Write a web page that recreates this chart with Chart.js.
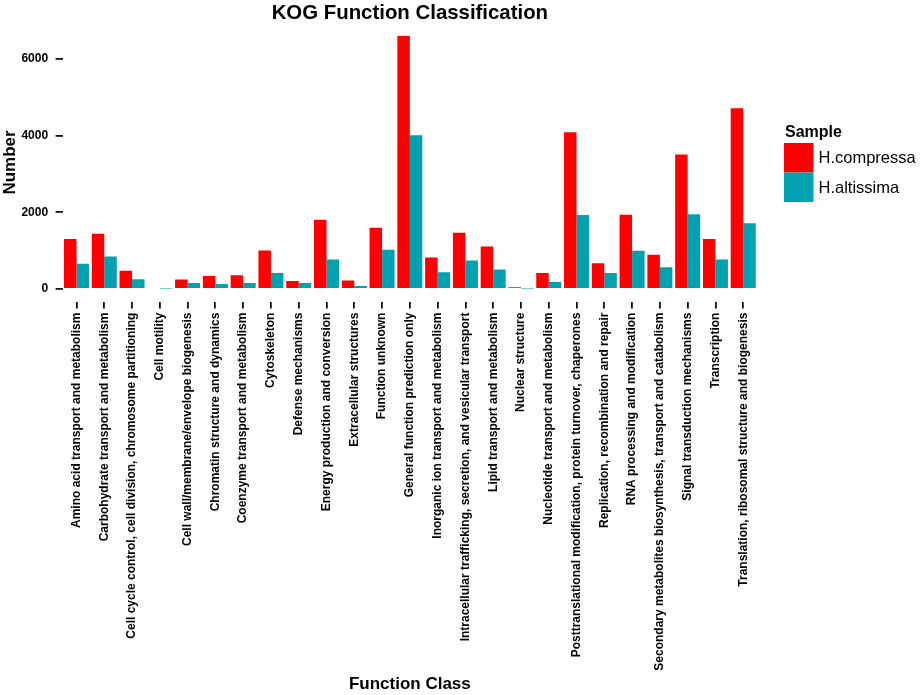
<!DOCTYPE html>
<html>
<head>
<meta charset="utf-8">
<title>KOG Function Classification</title>
<script src="https://cdn.jsdelivr.net/npm/chart.js@4.4.1/dist/chart.umd.min.js"></script>
<style>
    html, body { margin: 0; padding: 0; background: #ffffff; }
    #kogChart { display: block; }
</style>
</head>
<body>
<canvas id="kogChart" width="921" height="695"></canvas>
<script>
// KOG classes, in the order they appear along the x axis
const categories = [
    'Amino acid transport and metabolism',
    'Carbohydrate transport and metabolism',
    'Cell cycle control, cell division, chromosome partitioning',
    'Cell motility',
    'Cell wall/membrane/envelope biogenesis',
    'Chromatin structure and dynamics',
    'Coenzyme transport and metabolism',
    'Cytoskeleton',
    'Defense mechanisms',
    'Energy production and conversion',
    'Extracellular structures',
    'Function unknown',
    'General function prediction only',
    'Inorganic ion transport and metabolism',
    'Intracellular trafficking, secretion, and vesicular transport',
    'Lipid transport and metabolism',
    'Nuclear structure',
    'Nucleotide transport and metabolism',
    'Posttranslational modification, protein turnover, chaperones',
    'Replication, recombination and repair',
    'RNA processing and modification',
    'Secondary metabolites biosynthesis, transport and catabolism',
    'Signal transduction mechanisms',
    'Transcription',
    'Translation, ribosomal structure and biogenesis',
];

// values
const compressaCounts = [1302, 1441, 472, 26, 245, 341, 358, 1004, 210, 1808, 218, 1598, 6603, 821, 1467, 1109, 44, 419, 4087, 672, 1939, 891, 3511, 1302, 4716];
const altissimaCounts = [655, 847, 253, 10, 157, 131, 157, 419, 157, 768, 79, 1022, 4009, 437, 742, 507, 10, 183, 1930, 419, 996, 568, 1947, 768, 1712];

const yTickValues = [0, 2000, 4000, 6000];
const sampleNames = ['H.compressa', 'H.altissima'];
const sampleColors = ['#ff0000', '#00a1b0'];

const FONT = '"Liberation Sans", Arial, Helvetica, sans-serif';

// ggplot-style padding of the value axis (5% of the data range)
const maxCount = Math.max(...compressaCounts, ...altissimaCounts);
const yPad = maxCount * 0.05;

// title and legend, placed like the ggplot output
const decorPlugin = {
    id: 'decor',
    afterDraw(chart) {
        const ctx = chart.ctx;
        const area = chart.chartArea;
        ctx.save();
        ctx.fillStyle = '#000';
        ctx.textAlign = 'center';
        ctx.textBaseline = 'alphabetic';
        ctx.font = 'bold 20.4px ' + FONT;
        ctx.fillText('KOG Function Classification', (area.left + area.right) / 2, 18.5);

        // legend
        const keyX = 784, keyTop = 143, keySize = 29.5;
        ctx.textAlign = 'left';
        ctx.font = 'bold 16px ' + FONT;
        ctx.fillText('Sample', 785, 136.5);
        ctx.font = '16.5px ' + FONT;
        ctx.textBaseline = 'middle';
        chart.data.datasets.forEach((ds, i) => {
            const y = keyTop + i * keySize;
            ctx.fillStyle = ds.backgroundColor;
            ctx.fillRect(keyX, y, keySize, keySize);
            ctx.fillStyle = '#000';
            ctx.fillText(ds.label, keyX + keySize + 5, y + keySize / 2 + 1);
        });
        ctx.restore();
    }
};

const ctx = document.getElementById('kogChart');
const kogChart = new Chart(ctx, {
    type: 'bar',
    data: {
        labels: categories,
        datasets: [
            { label: sampleNames[0], data: compressaCounts, backgroundColor: sampleColors[0] },
            { label: sampleNames[1], data: altissimaCounts, backgroundColor: sampleColors[1] },
        ],
    },
    options: {
        responsive: false,
        animation: false,
        devicePixelRatio: 1,
        layout: { padding: { top: 23.3, right: 163.9, bottom: 0, left: 0 } },
        datasets: {
            bar: { categoryPercentage: 0.9, barPercentage: 1.0, borderWidth: 0 },
        },
        plugins: {
            legend: { display: false },
            title: { display: false },
            tooltip: { enabled: false },
        },
        scales: {
            x: {
                type: 'category',
                offset: true,
                border: { display: false },
                grid: {
                    display: true,
                    offset: false,
                    drawOnChartArea: false,
                    drawTicks: true,
                    tickLength: 7,
                    color: '#111',
                    lineWidth: 1.8,
                },
                ticks: {
                    autoSkip: false,
                    minRotation: 90,
                    maxRotation: 90,
                    padding: 4,
                    color: '#000',
                    font: { family: FONT, size: 12, weight: 'bold' },
                },
                title: {
                    display: true,
                    text: 'Function Class',
                    color: '#000',
                    padding: 0,
                    font: { family: FONT, size: 17, weight: 'bold' },
                },
                afterFit(scale) { scale.height = 393.4; },
            },
            y: {
                min: -yPad,
                max: maxCount + yPad,
                border: { display: false },
                grid: {
                    display: true,
                    drawOnChartArea: false,
                    drawTicks: true,
                    tickLength: 7,
                    color: '#111',
                    lineWidth: 1.8,
                },
                ticks: {
                    padding: 7.5,
                    color: '#000',
                    font: { family: FONT, size: 12, weight: 'bold' },
                    callback: (value) => String(value),
                },
                afterBuildTicks(scale) {
                    scale.ticks = yTickValues.map(v => ({ value: v }));
                },
                title: {
                    display: true,
                    text: 'Number',
                    color: '#000',
                    padding: 0,
                    font: { family: FONT, size: 17, weight: 'bold' },
                },
                afterFit(scale) { scale.width = 62.6; },
            },
        },
    },
    plugins: [decorPlugin],
});
</script>
</body>
</html>
